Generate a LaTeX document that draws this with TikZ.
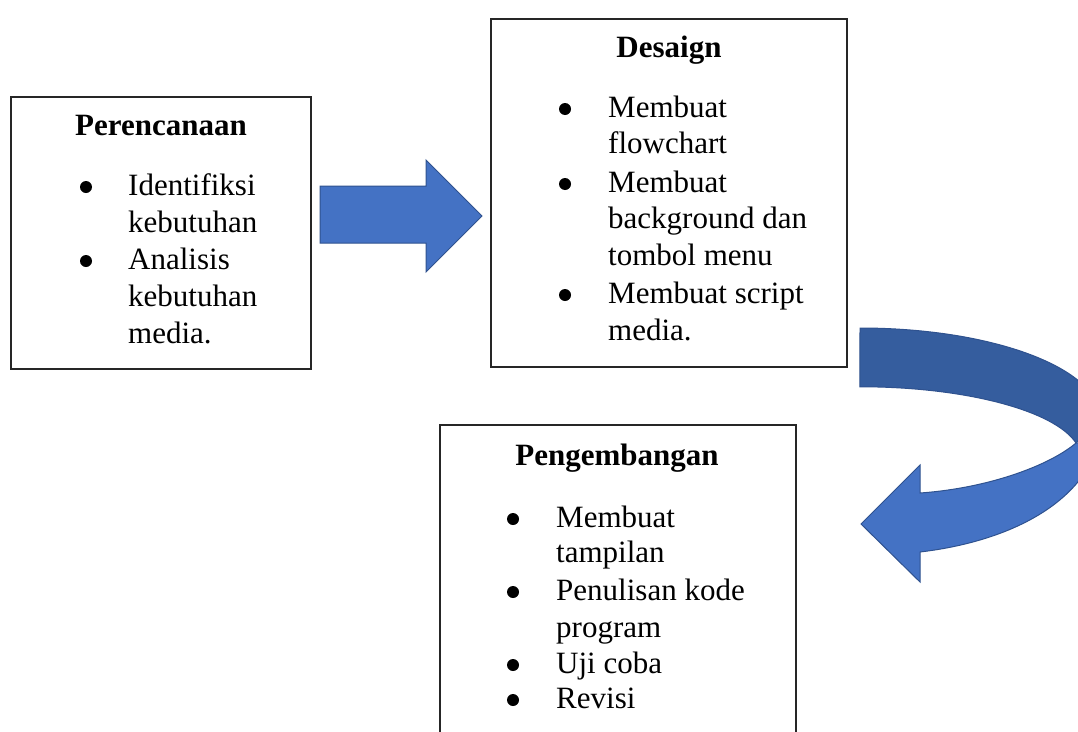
\documentclass[tikz,border=0pt]{standalone}
\usepackage{fontspec}
\setmainfont{Liberation Serif}
\definecolor{arrowblue}{HTML}{4472C4}
\definecolor{arrowdark}{HTML}{355D9E}
\definecolor{arrowline}{HTML}{2F528F}
\begin{document}
\begin{tikzpicture}[x=1pt,y=-1pt,
  box/.style={draw=black!85, line width=1.1pt, inner sep=0pt, rectangle},
  ttl/.style={font=\fontsize{31}{37}\selectfont\bfseries, anchor=base, inner sep=0pt},
  itm/.style={font=\fontsize{31}{37}\selectfont, anchor=base west, inner sep=0pt},
  dot/.style={circle, fill=black, inner sep=0pt, minimum size=12pt},
  blockarrow/.style={fill=arrowblue, draw=arrowline, line width=1pt, line join=miter}]
\useasboundingbox (0,0) rectangle (1078,731);
\clip (0,0) rectangle (1078,731);

% boxes
\node[box, minimum width=300pt, minimum height=272pt] (perbox) at (161,233) {};
\node[box, minimum width=356pt, minimum height=348pt] (desbox) at (669,193) {};
\node[box, minimum width=356pt, minimum height=335pt] (pengbox) at (618,592.5) {};

% Perencanaan
\node[ttl] (pert) at (161,135) {Perencanaan};
\node[dot] (perd1) at (86,187) {};
\node[itm] (per1) at (128,195) {Identifiksi};
\node[itm] (per2) at (128,232) {kebutuhan};
\node[dot] (perd2) at (86,261) {};
\node[itm] (per3) at (128,269) {Analisis};
\node[itm] (per4) at (128,306) {kebutuhan};
\node[itm] (per5) at (128,343) {media.};

% Desaign
\node[ttl] (dest) at (669,57) {Desaign};
\node[dot] (desd1) at (565,109) {};
\node[itm] (des1) at (608,117) {Membuat};
\node[itm] (des2) at (608,153) {flowchart};
\node[dot] (desd2) at (565,184) {};
\node[itm] (des3) at (608,192) {Membuat};
\node[itm] (des4) at (608,228) {background dan};
\node[itm] (des5) at (608,265) {tombol menu};
\node[dot] (desd3) at (565,295) {};
\node[itm] (des6) at (608,303) {Membuat script};
\node[itm] (des7) at (608,340) {media.};

% Pengembangan
\node[ttl] (pengt) at (617,465) {Pengembangan};
\node[dot] (pengd1) at (513,519) {};
\node[itm] (peng1) at (556,527) {Membuat};
\node[itm] (peng2) at (556,562) {tampilan};
\node[dot] (pengd2) at (513,592) {};
\node[itm] (peng3) at (556,600) {Penulisan kode};
\node[itm] (peng4) at (556,637) {program};
\node[dot] (pengd3) at (513,665) {};
\node[itm] (peng5) at (556,673) {Uji coba};
\node[dot] (pengd4) at (513,700) {};
\node[itm] (peng6) at (556,708) {Revisi};

% straight block arrow
\draw[blockarrow] (320,186) -- (426,186) -- (426,160) -- (482,216) -- (426,272) -- (426,243) -- (320,243) -- cycle;

% curved block arrow: lower (light) part with head
\draw[blockarrow] (1076,443) .. controls (1050,465) and (990,488) .. (920,493)
  -- (920,465) -- (861,524) -- (920,582) -- (920,552)
  .. controls (1005,542) and (1082,506) .. (1100,440) -- cycle;
% upper (dark) part
\draw[blockarrow, fill=arrowdark] (860,328) arc[start angle=-90, end angle=0, x radius=240, y radius=90]
  -- (1076,443) arc[start angle=-12, end angle=-90, x radius=221, y radius=71] -- cycle;
\end{tikzpicture}
\end{document}
